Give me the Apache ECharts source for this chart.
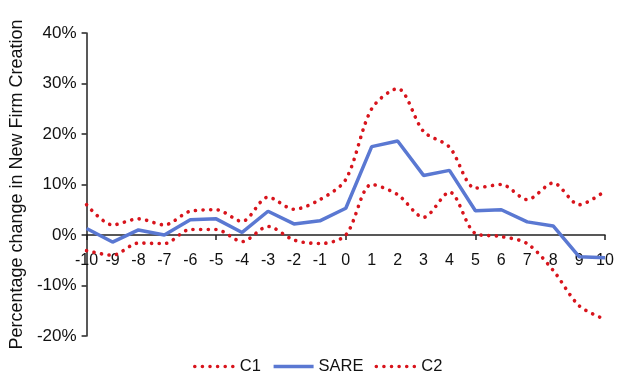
<!DOCTYPE html>
<html>
<head>
<meta charset="utf-8">
<script src="https://cdn.jsdelivr.net/npm/echarts@6/dist/echarts.min.js"></script>
<style>
    html, body { margin: 0; padding: 0; background: #fff; }
    #chart { width: 617px; height: 374px; }
</style>
</head>
<body>
<div id="chart"></div>
<script>
    // years relative to the event
    let years = [-10, -9, -8, -7, -6, -5, -4, -3, -2, -1, 0, 1, 2, 3, 4, 5, 6, 7, 8, 9, 10];
    // percentage change (values in %)
    let c1 = [6, 2, 3.2, 2, 4.7, 5, 2.7, 7.5, 5.1, 7, 11, 25, 29, 20.5, 17.4, 9.3, 10, 7, 10.3, 6, 8.7];
    let sare = [1.3, -1.4, 1, 0, 3, 3.2, 0.5, 4.7, 2.2, 2.8, 5.3, 17.5, 18.6, 11.8, 12.8, 4.8, 5, 2.6, 1.8, -4.3, -4.5];
    let c2 = [-3.1, -4, -1.6, -1.7, 1.1, 1.1, -1.3, 1.7, -1, -1.7, 0, 10, 8, 3.5, 8.5, 0.3, -0.3, -1.7, -7, -14, -16.7];
    let xTicks = [-10, -5, 0, 5, 10];

    function pairs(values) {
        return years.map((y, i) => [y, values[i]]);
    }

    let font = 'Liberation Sans, Arial, sans-serif';
    let red = '#d8141c';
    let blue = '#5a78d2';

    let myChart = echarts.init(document.getElementById('chart'));

    let dotted = {
        color: red,
        width: 3.6,
        type: [0.1, 7.5],
        cap: 'round'
    };

    let option = {
        animation: false,
        textStyle: { fontFamily: font },
        grid: { left: 85, right: 12, top: 33, bottom: 38, containLabel: false },
        legend: {
            top: 358,
            left: 193,
            padding: 0,
            itemWidth: 40,
            itemHeight: 12,
            itemGap: 11,
            itemStyle: { opacity: 0 },
            lineStyle: { width: 3.5 },
            textStyle: { fontSize: 16.5, color: '#111', fontFamily: font },
            data: ['C1', 'SARE', 'C2']
        },
        xAxis: {
            type: 'value',
            min: -10,
            max: 10,
            interval: 1,
            offset: -101, // axis crosses at 0%
            splitLine: { show: false },
            axisLine: { onZero: false, lineStyle: { color: '#222', width: 1.5 } },
            axisTick: { customValues: xTicks, length: 5, lineStyle: { color: '#222', width: 1.5 } },
            axisLabel: { margin: 18, fontSize: 16, color: '#111', fontFamily: font, showMinLabel: true, showMaxLabel: true }
        },
        yAxis: {
            type: 'value',
            min: -20,
            max: 40,
            interval: 10,
            name: 'Percentage change in New Firm Creation',
            nameLocation: 'middle',
            nameGap: 51,
            nameTextStyle: { fontSize: 18, color: '#111', fontFamily: font },
            splitLine: { show: false },
            axisLine: { show: true, onZero: false, lineStyle: { color: '#222', width: 1.5 } },
            axisTick: { show: true, length: 5, lineStyle: { color: '#222', width: 1.5 } },
            axisLabel: {
                margin: 10, fontSize: 17, color: '#111', fontFamily: font,
                formatter: '{value}%'
            }
        },
        series: [
            {
                name: 'C1',
                type: 'line',
                symbol: 'none',
                smooth: 0.3,
                lineStyle: dotted,
                itemStyle: { color: red },
                data: pairs(c1)
            },
            {
                name: 'SARE',
                type: 'line',
                symbol: 'none',
                lineStyle: { color: blue, width: 3.5 },
                itemStyle: { color: blue },
                data: pairs(sare)
            },
            {
                name: 'C2',
                type: 'line',
                symbol: 'none',
                smooth: 0.3,
                lineStyle: dotted,
                itemStyle: { color: red },
                data: pairs(c2)
            }
        ]
    };

    myChart.setOption(option);
</script>
</body>
</html>
